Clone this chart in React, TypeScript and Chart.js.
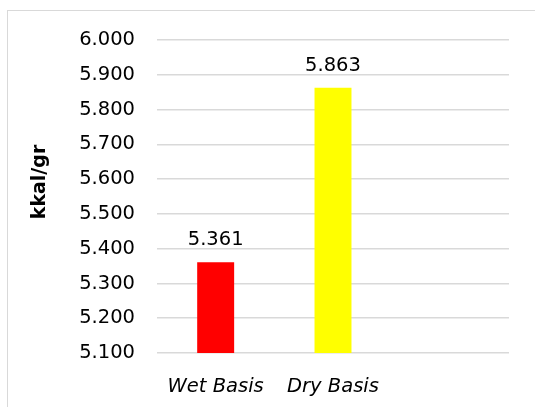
import React, { useEffect, useRef } from "react";
import { Chart, registerables } from "chart.js";

Chart.register(...registerables);

const categories = ["Wet Basis", "Dry Basis", ""];
const values = [5.361, 5.863, null];
const barColors = ["#ff0000", "#ffff00", "#ffffff"];
const yMin = 5.1;
const yMax = 6.0;
const yStep = 0.1;
const yTitle = "kkal/gr";

const FONT = "'DejaVu Sans', sans-serif";

const valueLabels = {
  id: "valueLabels",
  afterDatasetsDraw(chart: any) {
    const ctx = chart.ctx;
    ctx.save();
    ctx.font = `19.5px ${FONT}`;
    ctx.fillStyle = "#000";
    ctx.textAlign = "center";
    ctx.textBaseline = "alphabetic";
    chart.data.datasets.forEach((ds: any, di: number) => {
      const meta = chart.getDatasetMeta(di);
      meta.data.forEach((bar: any, i: number) => {
        const v = ds.data[i];
        if (v === null || v === undefined) return;
        ctx.fillText(Number(v).toFixed(3), bar.x, bar.y - 17);
      });
    });
    ctx.restore();
  },
};

const axisTitle = {
  id: "axisTitle",
  afterDraw(chart: any) {
    const ctx = chart.ctx;
    ctx.save();
    ctx.font = `bold 19px ${FONT}`;
    ctx.fillStyle = "#000";
    ctx.textAlign = "center";
    ctx.textBaseline = "middle";
    ctx.translate(40, 182);
    ctx.rotate(-Math.PI / 2);
    ctx.fillText(yTitle, 0, 0);
    ctx.restore();
  },
};

export default function App() {
  const ref = useRef<HTMLCanvasElement | null>(null);
  useEffect(() => {
    if (!ref.current) return;
    const chart = new Chart(ref.current, {
      type: "bar",
      data: {
        labels: categories,
        datasets: [
          {
            data: values as any,
            backgroundColor: barColors,
            borderWidth: 0,
            barPercentage: 0.315,
            categoryPercentage: 1,
          },
        ],
      },
      options: {
        animation: false,
        responsive: false,
        devicePixelRatio: 1,
        layout: { padding: { left: 0, top: 40, right: 26, bottom: 0 } },
        plugins: {
          legend: { display: false },
          tooltip: { enabled: false },
        },
        scales: {
          x: {
            grid: { display: false },
            border: { display: false },
            ticks: {
              color: "#000",
              padding: 14,
              font: { family: FONT, size: 19.5, style: "italic" },
              maxRotation: 0,
              autoSkip: false,
            },
            afterFit: (s: any) => {
              s.height = 54;
            },
          },
          y: {
            min: yMin,
            max: yMax,
            grid: { color: "#d9d9d9", lineWidth: 1.5, drawTicks: false },
            border: { display: false },
            ticks: {
              stepSize: yStep,
              color: "#000",
              padding: 22,
              font: { family: FONT, size: 19.5 },
              callback: (v: any) => Number(v).toFixed(3),
            },
            afterFit: (s: any) => {
              s.width = 157;
            },
          },
        },
      },
      plugins: [valueLabels, axisTitle],
    });
    return () => chart.destroy();
  }, []);

  return (
    <div
      style={{
        position: "fixed",
        left: 0,
        top: 0,
        width: 535,
        height: 407,
        overflow: "hidden",
        background: "#fff",
      }}
    >
      <div
        style={{
          position: "absolute",
          left: 7,
          top: 10,
          width: 600,
          height: 500,
          border: "1px solid #d9d9d9",
        }}
      />
      <canvas
        ref={ref}
        width={535}
        height={407}
        style={{ position: "absolute", left: 0, top: 0, width: 535, height: 407 }}
      />
    </div>
  );
}
